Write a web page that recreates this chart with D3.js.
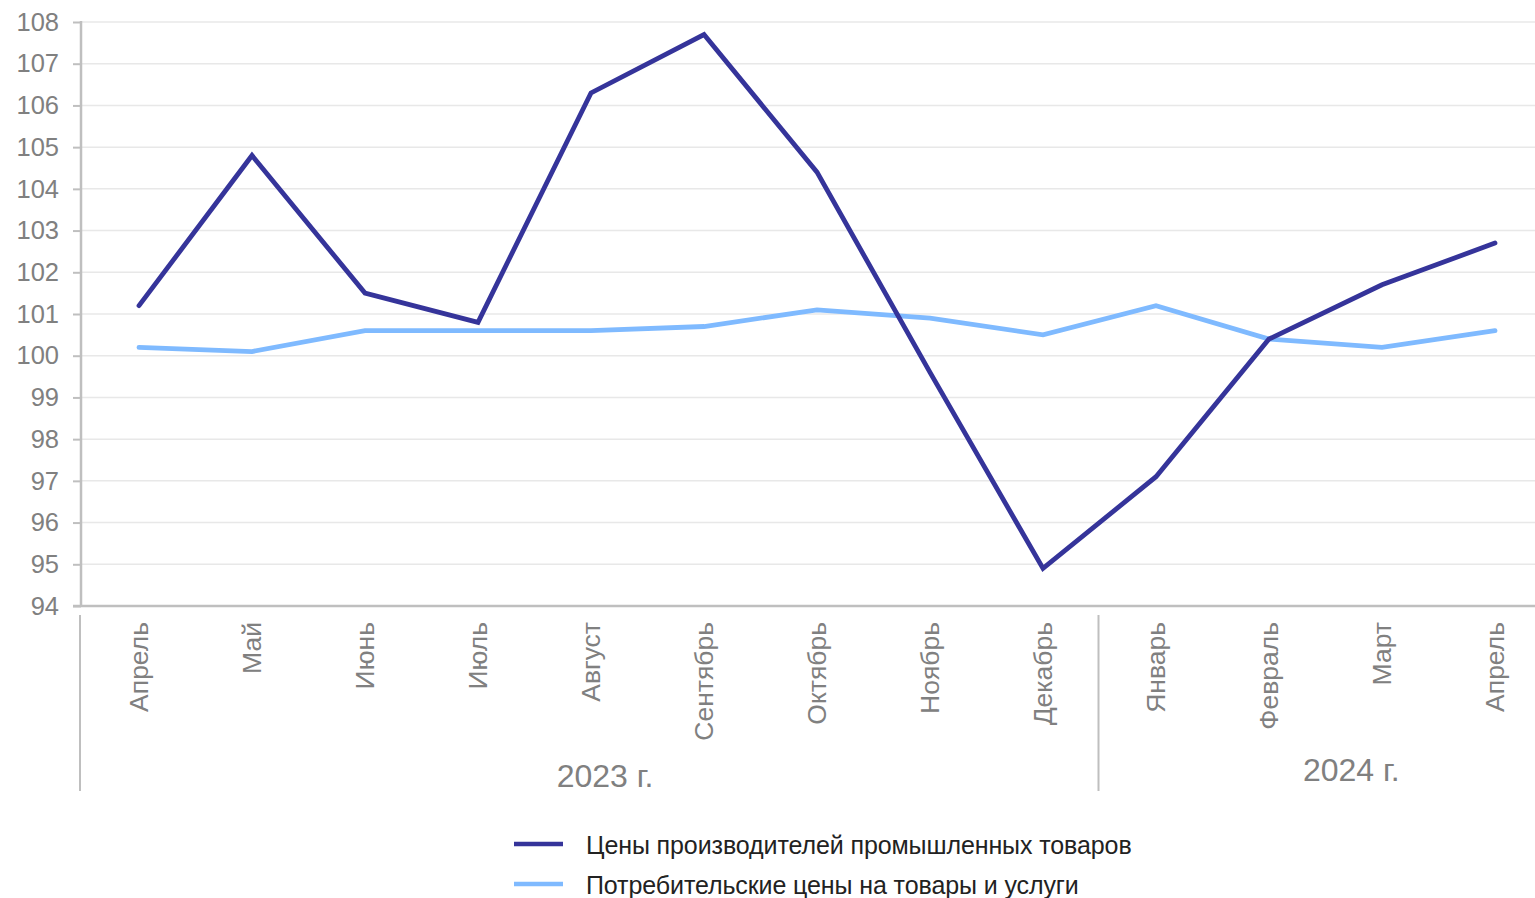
<!DOCTYPE html>
<html>
<head>
<meta charset="utf-8">
<script src="https://cdn.jsdelivr.net/npm/d3@7"></script>
<style>
  body { margin: 0; background: #fff; }
  text { font-family: "Liberation Sans", Arial, sans-serif; }
</style>
</head>
<body>
<div id="canvas"></div>
<script>
// data
var months = ["Апрель", "Май", "Июнь", "Июль", "Август", "Сентябрь", "Октябрь", "Ноябрь", "Декабрь",
              "Январь", "Февраль", "Март", "Апрель"];
var producer = [101.2, 104.8, 101.5, 100.8, 106.3, 107.7, 104.4, 99.6, 94.9, 97.1, 100.4, 101.7, 102.7];
var consumer = [100.2, 100.1, 100.6, 100.6, 100.6, 100.7, 101.1, 100.9, 100.5, 101.2, 100.4, 100.2, 100.6];
var years = ["2023 г.", "2024 г."];
var yearCounts = [9, 4];
var yTicks = [94, 95, 96, 97, 98, 99, 100, 101, 102, 103, 104, 105, 106, 107, 108];
var seriesNames = ["Цены производителей промышленных товаров", "Потребительские цены на товары и услуги"];
var seriesColours = ["#35349a", "#7fbaff"];

var w = 1535, h = 898;
var svg = d3.select("#canvas").append("svg").attr("width", w).attr("height", h);

var mLeft = 81, mTop = 22, mBottom = 606;
var x = d3.scaleBand().domain(d3.range(months.length)).range([82.5, 82.5 + 113 * months.length]);
var y = d3.scaleLinear().domain([94, 108]).range([mBottom, mTop]);
var grey = "#808080", axisGrey = "#bfbfbf";

// gridlines
svg.append("g").selectAll("line").data(yTicks.slice(1)).enter().append("line")
    .attr("x1", mLeft).attr("x2", w)
    .attr("y1", d => y(d)).attr("y2", d => y(d))
    .style("stroke", "#e8e8e8").style("stroke-width", 1.5);

// y axis
var yAxis = svg.append("g").attr("transform", "translate(" + mLeft + ",0)")
    .call(d3.axisLeft(y).tickValues(yTicks).tickSize(8).tickPadding(14));
yAxis.select(".domain").remove();
yAxis.selectAll("line").style("stroke", axisGrey).style("stroke-width", 2);
yAxis.selectAll("text").style("fill", grey).style("font-size", "25.5px")
    .attr("font-family", "Liberation Sans, Arial, sans-serif");
svg.append("line").attr("x1", mLeft).attr("x2", mLeft).attr("y1", mTop - 1).attr("y2", mBottom)
    .style("stroke", axisGrey).style("stroke-width", 2.5);
svg.append("line").attr("x1", mLeft - 8).attr("x2", w).attr("y1", mBottom).attr("y2", mBottom)
    .style("stroke", axisGrey).style("stroke-width", 2.5);

// x labels, rotated
svg.append("g").selectAll("text").data(months).enter().append("text")
    .attr("transform", (d, i) => "translate(" + (x(i) + x.bandwidth() / 2 + 9) + ",622) rotate(-90)")
    .attr("text-anchor", "end")
    .style("fill", grey).style("font-size", "26.5px")
    .text(d => d);

// year groups: separators and labels
var starts = [0, yearCounts[0]];
var sepX = [mLeft - 1, x(yearCounts[0]) - 1];
svg.append("g").selectAll("line").data(sepX).enter().append("line")
    .attr("x1", d => d).attr("x2", d => d).attr("y1", 615).attr("y2", 791)
    .style("stroke", axisGrey).style("stroke-width", 2);
var yearOffsets = [14, 34];
var yearY = [787, 781];
svg.append("g").selectAll("text").data(years).enter().append("text")
    .attr("x", (d, i) => {
      var a = x(starts[i]), b = Math.min(x(starts[i] + yearCounts[i] - 1) + x.bandwidth(), w);
      return (a + b) / 2 + yearOffsets[i];
    })
    .attr("y", (d, i) => yearY[i])
    .attr("text-anchor", "middle")
    .style("fill", grey).style("font-size", "32px")
    .text(d => d);

// lines
var line = d3.line().x((d, i) => x(i) + x.bandwidth() / 2).y(d => y(d));
[consumer, producer].forEach(function(s, k) {
  svg.append("path").datum(s).attr("d", line)
      .style("fill", "none")
      .style("stroke", seriesColours[1 - k])
      .style("stroke-width", 4.8)
      .style("stroke-linecap", "round")
      .style("stroke-linejoin", "miter");
});

// legend
var lg = svg.append("g").selectAll("g").data(seriesNames).enter().append("g")
    .attr("transform", (d, i) => "translate(514," + (844 + i * 40) + ")");
lg.append("line").attr("x1", 0).attr("x2", 49).attr("y1", 0).attr("y2", 0)
    .style("stroke", (d, i) => seriesColours[i]).style("stroke-width", 4.5);
lg.append("text").attr("x", 72).attr("y", 10)
    .style("fill", "#222").style("font-size", "25px").style("letter-spacing", "-0.1px")
    .text(d => d);
</script>
</body>
</html>
